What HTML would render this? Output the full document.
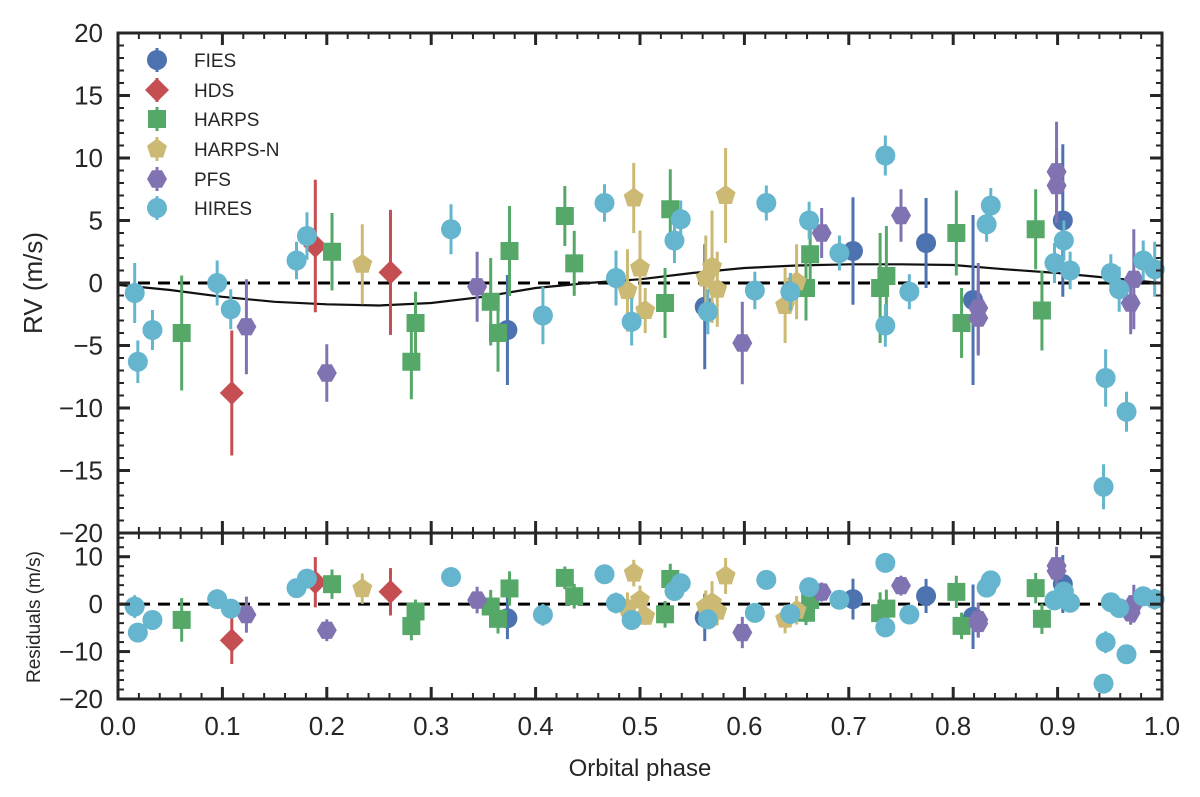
<!DOCTYPE html>
<html><head><meta charset="utf-8"><style>
html,body{margin:0;padding:0;background:#fff;}
svg{display:block;font-family:"Liberation Sans",sans-serif;}
</style></head><body>
<svg id="chart" width="1200" height="797" viewBox="0 0 1200 797" xmlns="http://www.w3.org/2000/svg">
<rect width="1200" height="797" fill="#fff"/>
<g id="marks"></g>
<g id="axes"></g>
</svg>
<script>
// ---- data ----
const fiesPhase=[0.373,0.562,0.704,0.774,0.819,0.905];
const fiesRV=[-3.76,-1.9,2.56,3.2,-1.36,5.0];
const fiesErr=[4.4,5.0,4.3,3.6,6.8,6.1];
const hdsPhase=[0.109,0.189,0.261];
const hdsRV=[-8.8,2.96,0.85];
const hdsErr=[5.0,5.3,5.0];
const harpsPhase=[0.061,0.205,0.285,0.281,0.357,0.364,0.375,0.428,0.437,0.524,0.529,0.659,0.663,0.730,0.736,0.803,0.808,0.879,0.885];
const harpsRV=[-4.0,2.5,-3.2,-6.3,-1.5,-4.0,2.56,5.36,1.57,-1.6,5.9,-0.4,2.3,-0.4,0.56,4.0,-3.2,4.3,-2.2];
const harpsErr=[4.6,3.1,2.5,3.0,3.5,3.1,3.6,2.4,2.6,2.8,3.2,2.6,2.0,4.4,4.0,3.4,2.8,3.2,3.2];
const harpsnPhase=[0.234,0.494,0.488,0.500,0.505,0.582,0.563,0.569,0.574,0.639,0.650];
const harpsnRV=[1.5,6.8,-0.6,1.2,-2.2,7.0,0.4,1.3,-0.5,-1.8,0.1];
const harpsnErr=[3.2,2.8,3.3,3.0,1.8,3.8,3.4,4.5,3.0,3.0,3.0];
const pfsPhase=[0.123,0.200,0.344,0.598,0.674,0.750,0.824,0.824,0.899,0.899,0.970,0.973];
const pfsRV=[-3.5,-7.2,-0.3,-4.8,4.0,5.4,-2.0,-2.8,8.9,7.8,-1.6,0.3];
const pfsErr=[3.8,2.3,2.8,3.3,2.0,2.1,3.6,3.0,4.0,3.0,2.5,4.0];
const hiresPhase=[0.016,0.019,0.033,0.095,0.108,0.171,0.181,0.319,0.407,0.466,0.477,0.492,0.533,0.539,0.565,0.610,0.621,0.644,0.662,0.691,0.735,0.735,0.758,0.832,0.836,0.897,0.906,0.912,0.946,0.951,0.959,0.944,0.966,0.982,0.993];
const hiresRV=[-0.8,-6.3,-3.76,0.0,-2.1,1.8,3.76,4.3,-2.6,6.4,0.4,-3.1,3.4,5.1,-2.3,-0.6,6.4,-0.7,5.0,2.4,10.2,-3.4,-0.7,4.7,6.2,1.6,3.4,1.0,-7.6,0.8,-0.5,-16.3,-10.3,1.8,1.1];
const hiresErr=[2.4,1.7,1.6,1.8,1.6,1.5,1.9,2.0,2.3,1.5,2.2,1.9,1.8,1.5,1.8,1.5,1.4,1.5,1.5,1.4,1.6,1.7,1.4,1.4,1.4,1.6,1.6,1.5,2.3,1.5,1.8,1.8,1.6,1.6,2.2];
const modelPhase=[0,0.05,0.1,0.15,0.2,0.25,0.3,0.35,0.4,0.45,0.5,0.55,0.6,0.65,0.7,0.75,0.8,0.85,0.9,0.95,1.0];
const modelRV=[-0.15,-0.56,-1.1,-1.5,-1.7,-1.8,-1.6,-1.1,-0.4,0.0,0.3,0.8,1.2,1.4,1.5,1.5,1.44,1.1,0.8,0.4,0.0];
const xTicks=[0,0.1,0.2,0.3,0.4,0.5,0.6,0.7,0.8,0.9,1.0];
const xTickLabels=["0.0","0.1","0.2","0.3","0.4","0.5","0.6","0.7","0.8","0.9","1.0"];
const yTopTicks=[-20,-15,-10,-5,0,5,10,15,20];
const yTopLabels=["\u221220","\u221215","\u221210","\u22125","0","5","10","15","20"];
const yBotTicks=[-20,-10,0,10];
const yBotLabels=["\u221220","\u221210","0","10"];

// ---- geometry ----
const X0=118,X1=1162,TT=33,TB=533,BT=533,BB=699;
const sx=p=>X0+(X1-X0)*p;
const syT=v=>TT+(20-v)/40*(TB-TT);
const syB=v=>BT+(15-v)/35*(BB-BT);
const NS="http://www.w3.org/2000/svg";
const marks=document.getElementById('marks'), axes=document.getElementById('axes');
function mk(tag,attrs,parent){const e=document.createElementNS(NS,tag);for(const k in attrs)e.setAttribute(k,attrs[k]);parent.appendChild(e);return e;}
function model(p){for(let i=0;i<modelPhase.length-1;i++){if(p<=modelPhase[i+1]){const t=(p-modelPhase[i])/(modelPhase[i+1]-modelPhase[i]);return modelRV[i]+t*(modelRV[i+1]-modelRV[i]);}}return modelRV[modelRV.length-1];}

function marker(shape,cx,cy,col,g,s){
  s=s||1;
  if(shape==='circle'){return mk('circle',{cx:cx,cy:cy,r:10*s,fill:col},g);}
  if(shape==='square'){return mk('rect',{x:cx-9*s,y:cy-9*s,width:18*s,height:18*s,fill:col},g);}
  if(shape==='diamond'){const r=12*s;return mk('polygon',{points:`${cx},${cy-r} ${cx+r},${cy} ${cx},${cy+r} ${cx-r},${cy}`,fill:col},g);}
  if(shape==='pentagon'){let pts=[];for(let i=0;i<5;i++){const a=-Math.PI/2+i*2*Math.PI/5;pts.push((cx+10.5*s*Math.cos(a)).toFixed(1)+','+(cy+10.5*s*Math.sin(a)).toFixed(1));}return mk('polygon',{points:pts.join(' '),fill:col},g);}
  if(shape==='hexagon'){let pts=[];for(let i=0;i<6;i++){const a=i*Math.PI/3;pts.push((cx+10*s*Math.cos(a)).toFixed(1)+','+(cy+10*s*Math.sin(a)).toFixed(1));}return mk('polygon',{points:pts.join(' '),fill:col},g);}
}

const series=[
 {name:'fies',label:'FIES',col:'#4c72b0',shape:'circle',p:fiesPhase,v:fiesRV,e:fiesErr},
 {name:'hds',label:'HDS',col:'#c44e52',shape:'diamond',p:hdsPhase,v:hdsRV,e:hdsErr},
 {name:'harps',label:'HARPS',col:'#55a868',shape:'square',p:harpsPhase,v:harpsRV,e:harpsErr},
 {name:'harps-n',label:'HARPS-N',col:'#ccb974',shape:'pentagon',p:harpsnPhase,v:harpsnRV,e:harpsnErr},
 {name:'pfs',label:'PFS',col:'#8172b2',shape:'hexagon',p:pfsPhase,v:pfsRV,e:pfsErr},
 {name:'hires',label:'HIRES',col:'#64b5cd',shape:'circle',p:hiresPhase,v:hiresRV,e:hiresErr}
];

// dashed zero lines
const z1=mk('line',{x1:X0,x2:X1,y1:syT(0),y2:syT(0),stroke:'#000','stroke-width':3,'stroke-dasharray':'12 8'},marks);


const z2=mk('line',{x1:X0,x2:X1,y1:syB(0),y2:syB(0),stroke:'#000','stroke-width':3,'stroke-dasharray':'12 8'},marks);



// model curve
let d='';
for(let i=0;i<modelPhase.length;i++){d+=(i?'L':'M')+sx(modelPhase[i]).toFixed(1)+','+syT(modelRV[i]).toFixed(1);}
const mc=mk('path',{d:d,fill:'none',stroke:'#111','stroke-width':2.2},marks);



series.forEach(s=>{
  const g=mk('g',{},marks);
  
  
  for(let i=0;i<s.p.length;i++){
    const x=sx(s.p[i]);
    const eb=mk('line',{x1:x,x2:x,y1:syT(s.v[i]-s.e[i]),y2:syT(s.v[i]+s.e[i]),stroke:s.col,'stroke-width':3},g);
    
    
    const m=marker(s.shape,x,syT(s.v[i]),s.col,g);
    
    
    const r=s.v[i]-model(s.p[i]);
    const eb2=mk('line',{x1:x,x2:x,y1:syB(r-s.e[i]),y2:syB(r+s.e[i]),stroke:s.col,'stroke-width':3},g);
    
    
    const m2=marker(s.shape,x,syB(r),s.col,g);
    
    
  }
});

// legend
const lg=mk('g',{},axes);


const legY=[60,90,119,149,179,208];
series.forEach((s,i)=>{
  const y=legY[i];
  const e=mk('line',{x1:157,x2:157,y1:y-12,y2:y+12,stroke:s.col,'stroke-width':3},lg);
  
  
  const m=marker(s.shape,157,y,s.col,lg,1.0);
  
  
  const t=mk('text',{x:194,y:y+7,'font-size':19,fill:'#262626'},lg);
  t.textContent=s.label;
  
  
});

// axes frames
const ac='#262626';
[[TT,TB],[BT,BB]].forEach((b,k)=>{
  const r=mk('rect',{x:X0,y:b[0],width:X1-X0,height:b[1]-b[0],fill:'none',stroke:ac,'stroke-width':3},axes);
  
  
});
// x ticks
for(let i=0;i<=50;i++){
  const p=i/50, x=sx(p), major=(i%5===0), L=major?12:6;
  [[TT,1],[TB,-1],[BT,1],[BB,-1]].forEach(q=>{
    const t=mk('line',{x1:x,x2:x,y1:q[0],y2:q[0]+q[1]*L,stroke:ac,'stroke-width':major?3:2},axes);
    
    
  });
}
xTicks.forEach((p,i)=>{
  const t=mk('text',{x:sx(p),y:735,'font-size':26,'text-anchor':'middle',fill:ac},axes);
  t.textContent=xTickLabels[i];
  
  
});
// y ticks top
for(let v=-20;v<=20;v++){
  const y=syT(v), major=(v%5===0), L=major?12:6;
  [[X0,1],[X1,-1]].forEach(q=>{
    const t=mk('line',{x1:q[0],x2:q[0]+q[1]*L,y1:y,y2:y,stroke:ac,'stroke-width':major?3:2},axes);
    
    
  });
}
yTopTicks.forEach((v,i)=>{
  const t=mk('text',{x:103,y:syT(v)+9,'font-size':26,'text-anchor':'end',fill:ac},axes);
  t.textContent=yTopLabels[i];
  
  
});
// y ticks bottom
for(let v=-20;v<=14;v+=2){
  const y=syB(v), major=(v%10===0), L=major?12:6;
  [[X0,1],[X1,-1]].forEach(q=>{
    const t=mk('line',{x1:q[0],x2:q[0]+q[1]*L,y1:y,y2:y,stroke:ac,'stroke-width':major?3:2},axes);
    
    
  });
}
yBotTicks.forEach((v,i)=>{
  const t=mk('text',{x:103,y:syB(v)+9,'font-size':26,'text-anchor':'end',fill:ac},axes);
  t.textContent=yBotLabels[i];
  
  
});
// axis titles
const yt=mk('text',{x:0,y:0,'font-size':26,'text-anchor':'middle',fill:ac,transform:'translate(42,283) rotate(-90)'},axes);
yt.textContent='RV (m/s)';


const yt2=mk('text',{x:0,y:0,'font-size':19,'text-anchor':'middle',fill:ac,transform:'translate(40,617) rotate(-90)'},axes);
yt2.textContent='Residuals (m/s)';


const xt=mk('text',{x:640,y:776,'font-size':24,'text-anchor':'middle',fill:ac},axes);
xt.textContent='Orbital phase';


</script>
</body></html>
